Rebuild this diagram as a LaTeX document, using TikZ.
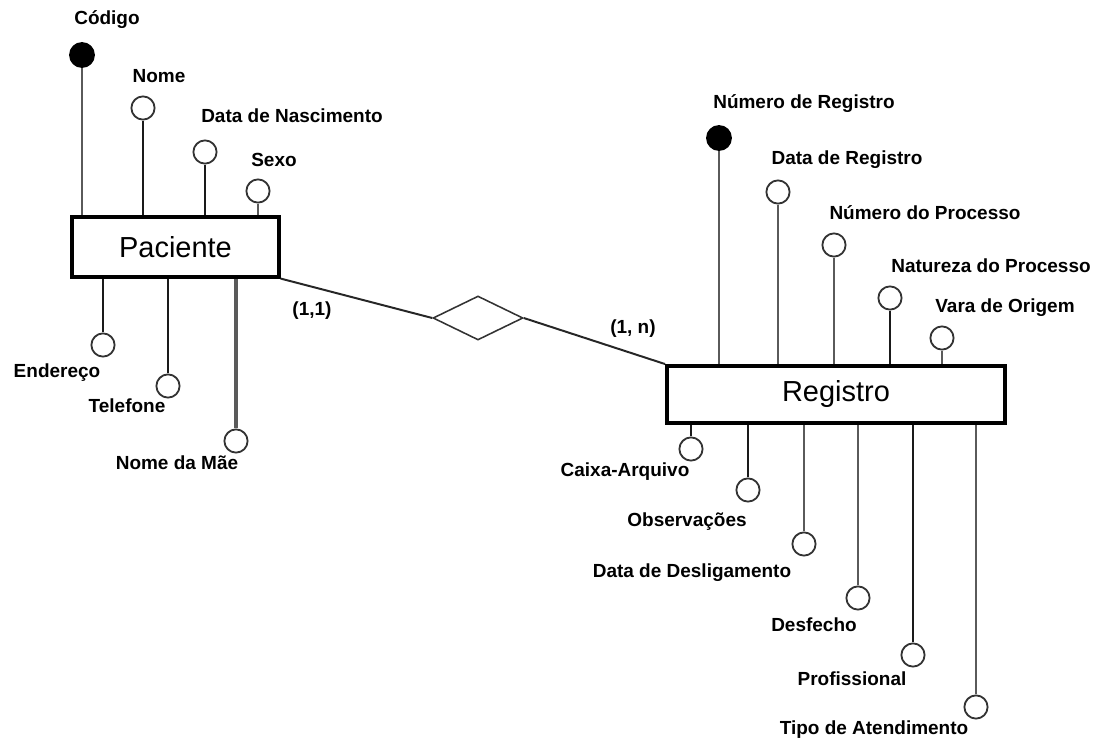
\documentclass[tikz,border=0pt]{standalone}
\usepackage{fontspec}
\setmainfont{Liberation Sans}
\usetikzlibrary{shapes.geometric}
\definecolor{lgray}{HTML}{5A5A5A}
\definecolor{dk}{HTML}{1A1A1A}
\tikzset{
  entity/.style={draw=black, line width=2.2pt, fill=white, inner sep=0pt, font=\fontsize{20.6}{24}\selectfont},
  attr/.style={circle, draw=black!80, line width=1.3pt, fill=white, minimum size=0.58cm, inner sep=0pt},
  keyattr/.style={circle, draw=black, line width=1.3pt, fill=black, minimum size=0.6cm, inner sep=0pt},
  lbl/.style={inner sep=0pt, font=\fontsize{13.5}{16}\selectfont\bfseries},
  glink/.style={draw=lgray, line width=1.5pt},
  blink/.style={draw=dk, line width=1.5pt},
  rel/.style={diamond, draw=black!80, line width=1.1pt, fill=white, minimum width=2.25cm, minimum height=1.1cm, inner sep=0pt},
  rlink/.style={draw=black!85, line width=1.4pt}
}
\begin{document}
\begin{tikzpicture}[x=0.025cm, y=-0.025cm]
\useasboundingbox[fill=white] (0,0) rectangle (1104,742);
% entities
\node[entity, minimum width=5.175cm, minimum height=1.5cm] (pac) at (175.5,247) {Paciente};
\node[entity, line width=2.8pt, minimum width=8.45cm, minimum height=1.425cm] (reg) at (836,394.5) {Registro};
% relationship
\node[rel] (r) at (478,318) {};
\draw[rlink] (pac.south east) -- (r.west);
\draw[rlink] (r.east) -- (reg.north west);
\node[lbl] (c1) at (312,311) {(1,1)};
\node[lbl] (c2) at (633,329) {(1, n)};
% Paciente attributes
\node[keyattr] (cod) at (82,55) {};
\node[lbl] (lcod) at (107,20) {Código};
\draw[glink] (cod.south) -- (cod.south |- pac.north);
\node[attr] (nome) at (143,108) {};
\node[lbl] (lnome) at (159,76) {Nome};
\draw[blink] (nome.south) -- (nome.south |- pac.north);
\node[attr] (dnasc) at (205,152) {};
\node[lbl] (ldnasc) at (292,116) {Data de Nascimento};
\draw[blink] (dnasc.south) -- (dnasc.south |- pac.north);
\node[attr] (sexo) at (258,191) {};
\node[lbl] (lsexo) at (274,160) {Sexo};
\draw[glink] (sexo.south) -- (sexo.south |- pac.north);
\node[attr] (end) at (103,345) {};
\node[lbl] (lend) at (57,373) {Endereço};
\draw[blink] (end.north) -- (end.north |- pac.south);
\node[attr] (tel) at (168,386) {};
\node[lbl] (ltel) at (127,406) {Telefone};
\draw[blink] (tel.north) -- (tel.north |- pac.south);
\node[attr] (mae) at (236,441) {};
\node[lbl] (lmae) at (177,463) {Nome da Mãe};
\draw[glink, line width=2.2pt] (mae.north) -- (mae.north |- pac.south);
% Registro attributes (top)
\node[keyattr] (nreg) at (719,138) {};
\node[lbl] (lnreg) at (804,104) {Número de Registro};
\draw[glink] (nreg.south) -- (nreg.south |- reg.north);
\node[attr] (dreg) at (778,192) {};
\node[lbl] (ldreg) at (847,160) {Data de Registro};
\draw[glink] (dreg.south) -- (dreg.south |- reg.north);
\node[attr] (nproc) at (834,245) {};
\node[lbl] (lnproc) at (925,213) {Número do Processo};
\draw[glink] (nproc.south) -- (nproc.south |- reg.north);
\node[attr] (natp) at (890,298) {};
\node[lbl] (lnatp) at (991,266) {Natureza do Processo};
\draw[blink, line width=1.9pt] (natp.south) -- (natp.south |- reg.north);
\node[attr] (vara) at (942,338) {};
\node[lbl] (lvara) at (1005,308) {Vara de Origem};
\draw[glink] (vara.south) -- (vara.south |- reg.north);
% Registro attributes (bottom)
\node[attr] (caixa) at (691,449) {};
\node[lbl] (lcaixa) at (625,472) {Caixa-Arquivo};
\draw[blink] (caixa.north) -- (caixa.north |- reg.south);
\node[attr] (obs) at (748,490) {};
\node[lbl] (lobs) at (687,522) {Observações};
\draw[blink] (obs.north) -- (obs.north |- reg.south);
\node[attr] (ddes) at (804,544) {};
\node[lbl] (lddes) at (692,573) {Data de Desligamento};
\draw[glink] (ddes.north) -- (ddes.north |- reg.south);
\node[attr] (desf) at (858,598) {};
\node[lbl] (ldesf) at (814,625) {Desfecho};
\draw[glink] (desf.north) -- (desf.north |- reg.south);
\node[attr] (prof) at (913,655) {};
\node[lbl] (lprof) at (852,679) {Profissional};
\draw[blink] (prof.north) -- (prof.north |- reg.south);
\node[attr] (tipo) at (976,707) {};
\node[lbl] (ltipo) at (874,730) {Tipo de Atendimento};
\draw[glink] (tipo.north) -- (tipo.north |- reg.south);
\end{tikzpicture}
\end{document}
